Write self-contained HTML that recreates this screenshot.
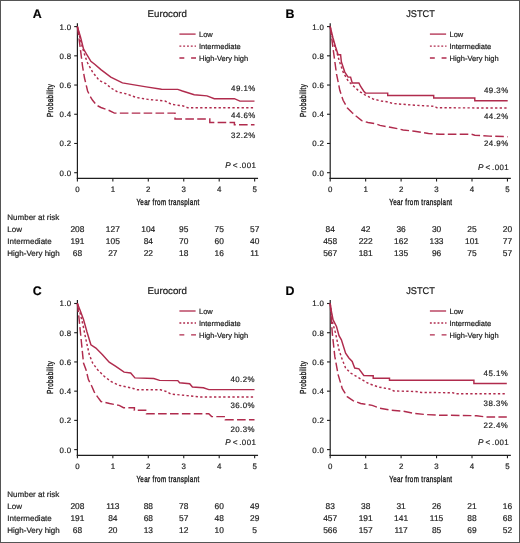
<!DOCTYPE html>
<html><head><meta charset="utf-8"><style>
html,body{margin:0;padding:0;background:#fff;}
body{width:520px;height:543px;overflow:hidden;}
svg{display:block;will-change:transform;}
text{font-family:"Liberation Sans",sans-serif;fill:#222;text-rendering:geometricPrecision;stroke:#222;stroke-width:0.2px;}
.tk{font-size:7.9px;letter-spacing:0.35px;}
.at{font-size:8.7px;letter-spacing:0.49px;stroke-width:0.4px;}
.lt{font-size:12.4px;font-weight:bold;fill:#000;}
.ti{font-size:9.7px;stroke-width:0.22px;}
.lg{font-size:7.5px;}
.pc{font-size:7.9px;letter-spacing:0.45px;}
.pv{font-size:8.2px;}
.nr{font-size:8px;}
.nn{font-size:8.4px;}
</style></head><body>
<svg width="520" height="543" viewBox="0 0 520 543">
<rect x="0" y="0" width="520" height="543" fill="#fff"/>
<path d="M77.40,23.20 V179.00" stroke="#1e1e1e" stroke-width="1.2" fill="none"/>
<path d="M76.80,178.40 H258.05" stroke="#1e1e1e" stroke-width="1.2" fill="none"/>
<path d="M74.20,172.70 H77.4" stroke="#1e1e1e" stroke-width="1.1"/>
<text x="71.45" y="175.60" class="tk" text-anchor="end">0.0</text>
<path d="M74.20,143.48 H77.4" stroke="#1e1e1e" stroke-width="1.1"/>
<text x="71.45" y="146.38" class="tk" text-anchor="end">0.2</text>
<path d="M74.20,114.26 H77.4" stroke="#1e1e1e" stroke-width="1.1"/>
<text x="71.45" y="117.16" class="tk" text-anchor="end">0.4</text>
<path d="M74.20,85.04 H77.4" stroke="#1e1e1e" stroke-width="1.1"/>
<text x="71.45" y="87.94" class="tk" text-anchor="end">0.6</text>
<path d="M74.20,55.82 H77.4" stroke="#1e1e1e" stroke-width="1.1"/>
<text x="71.45" y="58.72" class="tk" text-anchor="end">0.8</text>
<path d="M74.20,26.60 H77.4" stroke="#1e1e1e" stroke-width="1.1"/>
<text x="71.45" y="29.50" class="tk" text-anchor="end">1.0</text>
<path d="M77.40,178.4 V181.40" stroke="#1e1e1e" stroke-width="1.1"/>
<text x="77.57" y="191.90" class="tk" text-anchor="middle">0</text>
<path d="M112.85,178.4 V181.40" stroke="#1e1e1e" stroke-width="1.1"/>
<text x="113.02" y="191.90" class="tk" text-anchor="middle">1</text>
<path d="M148.30,178.4 V181.40" stroke="#1e1e1e" stroke-width="1.1"/>
<text x="148.47" y="191.90" class="tk" text-anchor="middle">2</text>
<path d="M183.75,178.4 V181.40" stroke="#1e1e1e" stroke-width="1.1"/>
<text x="183.92" y="191.90" class="tk" text-anchor="middle">3</text>
<path d="M219.20,178.4 V181.40" stroke="#1e1e1e" stroke-width="1.1"/>
<text x="219.37" y="191.90" class="tk" text-anchor="middle">4</text>
<path d="M254.65,178.4 V181.40" stroke="#1e1e1e" stroke-width="1.1"/>
<text x="254.82" y="191.90" class="tk" text-anchor="middle">5</text>
<text transform="translate(136.40,205.30) scale(0.72,1)" class="at">Year from transplant</text>
<text transform="translate(53.00,116.90) rotate(-90) scale(0.72,1)" class="at">Probability</text>
<text x="32.80" y="17.70" class="lt">A</text>
<text x="147.60" y="17.10" class="ti">Eurocord</text>
<path d="M179.40,34.10 h16.2" stroke="#b02b4d" stroke-width="1.3"/>
<path d="M179.40,46.10 h16.6" stroke="#b02b4d" stroke-width="1.3" stroke-dasharray="1.9 1.9"/>
<path d="M179.40,58.00 h16.6" stroke="#b02b4d" stroke-width="1.3" stroke-dasharray="4.9 6.8"/>
<text x="199.00" y="36.70" class="lg">Low</text>
<text x="199.00" y="48.70" class="lg">Intermediate</text>
<text x="199.00" y="60.60" class="lg">High-Very high</text>
<text x="255.70" y="90.70" class="pc" text-anchor="end">49.1%</text>
<text x="255.70" y="117.70" class="pc" text-anchor="end">44.6%</text>
<text x="255.70" y="137.90" class="pc" text-anchor="end">32.2%</text>
<text x="225.20" y="168.40" class="pv" font-style="italic">P</text>
<text x="232.70" y="168.40" class="pv">&lt;</text>
<text x="256.40" y="168.40" class="pc" text-anchor="end">.001</text>
<polyline points="77.4,26.6 80.0,46.0 82.5,66.0 84.5,78.0 87.6,91.0 90.0,96.0 92.6,100.3 96.7,105.3 100.9,107.5 109.2,110.5 114.4,113.1 175.0,113.1 175.0,119.0 209.8,119.0 209.8,122.4 234.4,122.4 234.4,124.8 254.5,124.8" fill="none" stroke="#b02b4d" stroke-width="1.45" stroke-dasharray="8.6 3.3" stroke-linejoin="miter"/>
<polyline points="77.4,26.6 80.0,38.0 82.6,48.0 85.0,56.0 87.6,63.0 92.6,72.1 99.2,80.4 105.9,83.7 110.8,87.8 117.5,92.0 125.8,93.7 136.5,97.5 148.1,99.4 159.6,100.5 165.0,101.0 171.4,104.3 183.3,106.0 187.8,107.8 254.5,107.8" fill="none" stroke="#b02b4d" stroke-width="1.45" stroke-dasharray="2.3 2.3"/>
<polyline points="77.4,26.6 80.5,37.0 83.5,48.9 87.0,55.0 90.9,61.3 95.0,64.5 100.9,69.6 110.8,77.1 122.4,82.9 132.7,84.6 146.2,86.9 161.5,89.2 177.8,89.4 182.4,91.0 194.2,94.7 207.0,95.9 214.3,98.7 234.4,98.7 239.9,101.1 254.5,101.1" fill="none" stroke="#b02b4d" stroke-width="1.45"/>
<text x="7.3" y="219.70" class="nr">Number at risk</text>
<text x="7.3" y="231.80" class="nr">Low</text>
<text x="7.3" y="243.80" class="nr">Intermediate</text>
<text x="7.3" y="255.80" class="nr">High-Very high</text>
<text x="77.40" y="231.80" class="nn" text-anchor="middle">208</text>
<text x="112.85" y="231.80" class="nn" text-anchor="middle">127</text>
<text x="148.30" y="231.80" class="nn" text-anchor="middle">104</text>
<text x="183.75" y="231.80" class="nn" text-anchor="middle">95</text>
<text x="219.20" y="231.80" class="nn" text-anchor="middle">75</text>
<text x="254.65" y="231.80" class="nn" text-anchor="middle">57</text>
<text x="77.40" y="243.80" class="nn" text-anchor="middle">191</text>
<text x="112.85" y="243.80" class="nn" text-anchor="middle">105</text>
<text x="148.30" y="243.80" class="nn" text-anchor="middle">84</text>
<text x="183.75" y="243.80" class="nn" text-anchor="middle">70</text>
<text x="219.20" y="243.80" class="nn" text-anchor="middle">60</text>
<text x="254.65" y="243.80" class="nn" text-anchor="middle">40</text>
<text x="77.40" y="255.80" class="nn" text-anchor="middle">68</text>
<text x="112.85" y="255.80" class="nn" text-anchor="middle">27</text>
<text x="148.30" y="255.80" class="nn" text-anchor="middle">22</text>
<text x="183.75" y="255.80" class="nn" text-anchor="middle">18</text>
<text x="219.20" y="255.80" class="nn" text-anchor="middle">16</text>
<text x="254.65" y="255.80" class="nn" text-anchor="middle">11</text>
<path d="M330.20,23.20 V179.00" stroke="#1e1e1e" stroke-width="1.2" fill="none"/>
<path d="M329.60,178.40 H510.85" stroke="#1e1e1e" stroke-width="1.2" fill="none"/>
<path d="M327.00,172.70 H330.2" stroke="#1e1e1e" stroke-width="1.1"/>
<text x="324.25" y="175.60" class="tk" text-anchor="end">0.0</text>
<path d="M327.00,143.48 H330.2" stroke="#1e1e1e" stroke-width="1.1"/>
<text x="324.25" y="146.38" class="tk" text-anchor="end">0.2</text>
<path d="M327.00,114.26 H330.2" stroke="#1e1e1e" stroke-width="1.1"/>
<text x="324.25" y="117.16" class="tk" text-anchor="end">0.4</text>
<path d="M327.00,85.04 H330.2" stroke="#1e1e1e" stroke-width="1.1"/>
<text x="324.25" y="87.94" class="tk" text-anchor="end">0.6</text>
<path d="M327.00,55.82 H330.2" stroke="#1e1e1e" stroke-width="1.1"/>
<text x="324.25" y="58.72" class="tk" text-anchor="end">0.8</text>
<path d="M327.00,26.60 H330.2" stroke="#1e1e1e" stroke-width="1.1"/>
<text x="324.25" y="29.50" class="tk" text-anchor="end">1.0</text>
<path d="M330.20,178.4 V181.40" stroke="#1e1e1e" stroke-width="1.1"/>
<text x="330.37" y="191.90" class="tk" text-anchor="middle">0</text>
<path d="M365.65,178.4 V181.40" stroke="#1e1e1e" stroke-width="1.1"/>
<text x="365.82" y="191.90" class="tk" text-anchor="middle">1</text>
<path d="M401.10,178.4 V181.40" stroke="#1e1e1e" stroke-width="1.1"/>
<text x="401.27" y="191.90" class="tk" text-anchor="middle">2</text>
<path d="M436.55,178.4 V181.40" stroke="#1e1e1e" stroke-width="1.1"/>
<text x="436.72" y="191.90" class="tk" text-anchor="middle">3</text>
<path d="M472.00,178.4 V181.40" stroke="#1e1e1e" stroke-width="1.1"/>
<text x="472.17" y="191.90" class="tk" text-anchor="middle">4</text>
<path d="M507.45,178.4 V181.40" stroke="#1e1e1e" stroke-width="1.1"/>
<text x="507.62" y="191.90" class="tk" text-anchor="middle">5</text>
<text transform="translate(389.20,205.30) scale(0.72,1)" class="at">Year from transplant</text>
<text transform="translate(305.80,116.90) rotate(-90) scale(0.72,1)" class="at">Probability</text>
<text x="285.60" y="17.70" class="lt">B</text>
<text x="406.20" y="17.10" class="ti" textLength="28.6" lengthAdjust="spacingAndGlyphs">JSTCT</text>
<path d="M429.90,34.10 h16.2" stroke="#b02b4d" stroke-width="1.3"/>
<path d="M429.90,46.10 h16.6" stroke="#b02b4d" stroke-width="1.3" stroke-dasharray="1.9 1.9"/>
<path d="M429.90,58.00 h16.6" stroke="#b02b4d" stroke-width="1.3" stroke-dasharray="4.9 6.8"/>
<text x="449.50" y="36.70" class="lg">Low</text>
<text x="449.50" y="48.70" class="lg">Intermediate</text>
<text x="449.50" y="60.60" class="lg">High-Very high</text>
<text x="508.60" y="93.30" class="pc" text-anchor="end">49.3%</text>
<text x="508.60" y="119.10" class="pc" text-anchor="end">44.2%</text>
<text x="508.60" y="146.30" class="pc" text-anchor="end">24.9%</text>
<text x="478.00" y="170.00" class="pv" font-style="italic">P</text>
<text x="485.50" y="170.00" class="pv">&lt;</text>
<text x="509.20" y="170.00" class="pc" text-anchor="end">.001</text>
<polyline points="330.2,26.6 333.1,48.9 336.5,73.8 339.8,90.3 343.1,100.3 347.2,107.7 352.2,112.7 356.0,116.0 361.7,120.6 368.0,122.5 376.0,123.8 380.0,125.4 391.5,127.5 397.3,128.6 403.1,130.0 414.6,131.2 428.5,133.5 440.0,134.2 471.2,134.2 474.8,135.2 489.4,136.1 507.7,136.7" fill="none" stroke="#b02b4d" stroke-width="1.45" stroke-dasharray="8.6 3.3" stroke-linejoin="miter"/>
<polyline points="330.2,26.6 332.2,37.0 334.3,45.0 337.3,54.0 339.6,62.0 343.5,73.0 348.3,81.2 353.7,86.2 359.0,91.2 365.0,94.8 373.1,99.0 381.2,101.0 386.9,101.8 392.7,103.5 414.6,105.2 434.2,106.3 437.0,107.8 507.7,108.0" fill="none" stroke="#b02b4d" stroke-width="1.45" stroke-dasharray="2.3 2.3"/>
<polyline points="330.2,26.6 333.0,38.0 335.6,47.0 338.1,54.7 340.6,54.7 341.4,62.0 344.8,72.1 348.1,77.1 350.6,77.1 352.2,82.9 358.9,82.9 360.5,86.2 363.8,91.2 365.5,93.1 387.7,93.1 387.7,95.4 433.7,95.4 433.7,98.0 474.8,98.0 474.8,100.7 507.7,100.7" fill="none" stroke="#b02b4d" stroke-width="1.45"/>
<text x="330.20" y="231.80" class="nn" text-anchor="middle">84</text>
<text x="365.65" y="231.80" class="nn" text-anchor="middle">42</text>
<text x="401.10" y="231.80" class="nn" text-anchor="middle">36</text>
<text x="436.55" y="231.80" class="nn" text-anchor="middle">30</text>
<text x="472.00" y="231.80" class="nn" text-anchor="middle">25</text>
<text x="507.45" y="231.80" class="nn" text-anchor="middle">20</text>
<text x="330.20" y="243.80" class="nn" text-anchor="middle">458</text>
<text x="365.65" y="243.80" class="nn" text-anchor="middle">222</text>
<text x="401.10" y="243.80" class="nn" text-anchor="middle">162</text>
<text x="436.55" y="243.80" class="nn" text-anchor="middle">133</text>
<text x="472.00" y="243.80" class="nn" text-anchor="middle">101</text>
<text x="507.45" y="243.80" class="nn" text-anchor="middle">77</text>
<text x="330.20" y="255.80" class="nn" text-anchor="middle">567</text>
<text x="365.65" y="255.80" class="nn" text-anchor="middle">181</text>
<text x="401.10" y="255.80" class="nn" text-anchor="middle">135</text>
<text x="436.55" y="255.80" class="nn" text-anchor="middle">96</text>
<text x="472.00" y="255.80" class="nn" text-anchor="middle">75</text>
<text x="507.45" y="255.80" class="nn" text-anchor="middle">57</text>
<path d="M77.40,300.10 V455.90" stroke="#1e1e1e" stroke-width="1.2" fill="none"/>
<path d="M76.80,455.30 H258.05" stroke="#1e1e1e" stroke-width="1.2" fill="none"/>
<path d="M74.20,449.60 H77.4" stroke="#1e1e1e" stroke-width="1.1"/>
<text x="71.45" y="452.50" class="tk" text-anchor="end">0.0</text>
<path d="M74.20,420.38 H77.4" stroke="#1e1e1e" stroke-width="1.1"/>
<text x="71.45" y="423.28" class="tk" text-anchor="end">0.2</text>
<path d="M74.20,391.16 H77.4" stroke="#1e1e1e" stroke-width="1.1"/>
<text x="71.45" y="394.06" class="tk" text-anchor="end">0.4</text>
<path d="M74.20,361.94 H77.4" stroke="#1e1e1e" stroke-width="1.1"/>
<text x="71.45" y="364.84" class="tk" text-anchor="end">0.6</text>
<path d="M74.20,332.72 H77.4" stroke="#1e1e1e" stroke-width="1.1"/>
<text x="71.45" y="335.62" class="tk" text-anchor="end">0.8</text>
<path d="M74.20,303.50 H77.4" stroke="#1e1e1e" stroke-width="1.1"/>
<text x="71.45" y="306.40" class="tk" text-anchor="end">1.0</text>
<path d="M77.40,455.29999999999995 V458.30" stroke="#1e1e1e" stroke-width="1.1"/>
<text x="77.57" y="468.80" class="tk" text-anchor="middle">0</text>
<path d="M112.85,455.29999999999995 V458.30" stroke="#1e1e1e" stroke-width="1.1"/>
<text x="113.02" y="468.80" class="tk" text-anchor="middle">1</text>
<path d="M148.30,455.29999999999995 V458.30" stroke="#1e1e1e" stroke-width="1.1"/>
<text x="148.47" y="468.80" class="tk" text-anchor="middle">2</text>
<path d="M183.75,455.29999999999995 V458.30" stroke="#1e1e1e" stroke-width="1.1"/>
<text x="183.92" y="468.80" class="tk" text-anchor="middle">3</text>
<path d="M219.20,455.29999999999995 V458.30" stroke="#1e1e1e" stroke-width="1.1"/>
<text x="219.37" y="468.80" class="tk" text-anchor="middle">4</text>
<path d="M254.65,455.29999999999995 V458.30" stroke="#1e1e1e" stroke-width="1.1"/>
<text x="254.82" y="468.80" class="tk" text-anchor="middle">5</text>
<text transform="translate(136.40,482.20) scale(0.72,1)" class="at">Year from transplant</text>
<text transform="translate(53.00,393.80) rotate(-90) scale(0.72,1)" class="at">Probability</text>
<text x="32.80" y="294.60" class="lt">C</text>
<text x="147.60" y="294.45" class="ti">Eurocord</text>
<path d="M179.40,311.00 h16.2" stroke="#b02b4d" stroke-width="1.3"/>
<path d="M179.40,323.00 h16.6" stroke="#b02b4d" stroke-width="1.3" stroke-dasharray="1.9 1.9"/>
<path d="M179.40,334.90 h16.6" stroke="#b02b4d" stroke-width="1.3" stroke-dasharray="4.9 6.8"/>
<text x="199.00" y="313.60" class="lg">Low</text>
<text x="199.00" y="325.60" class="lg">Intermediate</text>
<text x="199.00" y="337.50" class="lg">High-Very high</text>
<text x="255.00" y="381.80" class="pc" text-anchor="end">40.2%</text>
<text x="255.00" y="408.30" class="pc" text-anchor="end">36.0%</text>
<text x="255.00" y="431.50" class="pc" text-anchor="end">20.3%</text>
<text x="225.20" y="445.30" class="pv" font-style="italic">P</text>
<text x="232.70" y="445.30" class="pv">&lt;</text>
<text x="256.40" y="445.30" class="pc" text-anchor="end">.001</text>
<polyline points="77.4,303.5 79.0,318.0 81.0,338.0 83.5,363.0 86.0,369.7 88.4,379.6 91.8,386.2 94.2,391.9 98.1,397.7 101.0,401.5 109.6,403.5 119.2,405.4 123.5,407.7 134.4,407.7 134.4,410.2 146.5,410.2 146.5,413.7 208.8,413.7 211.6,416.6 225.3,416.6 225.3,419.7 254.5,419.7" fill="none" stroke="#b02b4d" stroke-width="1.45" stroke-dasharray="8.6 3.3" stroke-linejoin="miter"/>
<polyline points="77.4,303.5 80.3,314.0 82.6,323.2 86.0,339.8 89.3,354.7 92.6,363.0 97.6,369.7 104.2,376.3 110.8,381.3 119.1,385.4 127.4,387.1 134.0,388.7 137.3,389.8 160.4,389.8 166.2,391.5 170.8,394.0 186.9,395.6 199.7,396.9 254.5,396.9" fill="none" stroke="#b02b4d" stroke-width="1.45" stroke-dasharray="2.3 2.3"/>
<polyline points="77.4,303.5 80.0,310.0 83.5,319.5 87.0,332.0 90.9,344.8 95.9,348.1 102.5,354.7 109.2,362.2 115.8,366.3 124.1,372.1 130.7,373.0 134.9,377.9 153.8,378.5 159.6,380.4 177.8,380.6 179.6,382.8 189.7,383.7 192.4,387.0 203.4,387.8 208.8,389.6 254.5,389.6" fill="none" stroke="#b02b4d" stroke-width="1.45"/>
<text x="7.3" y="496.60" class="nr">Number at risk</text>
<text x="7.3" y="508.70" class="nr">Low</text>
<text x="7.3" y="520.70" class="nr">Intermediate</text>
<text x="7.3" y="532.70" class="nr">High-Very high</text>
<text x="77.40" y="508.70" class="nn" text-anchor="middle">208</text>
<text x="112.85" y="508.70" class="nn" text-anchor="middle">113</text>
<text x="148.30" y="508.70" class="nn" text-anchor="middle">88</text>
<text x="183.75" y="508.70" class="nn" text-anchor="middle">78</text>
<text x="219.20" y="508.70" class="nn" text-anchor="middle">60</text>
<text x="254.65" y="508.70" class="nn" text-anchor="middle">49</text>
<text x="77.40" y="520.70" class="nn" text-anchor="middle">191</text>
<text x="112.85" y="520.70" class="nn" text-anchor="middle">84</text>
<text x="148.30" y="520.70" class="nn" text-anchor="middle">68</text>
<text x="183.75" y="520.70" class="nn" text-anchor="middle">57</text>
<text x="219.20" y="520.70" class="nn" text-anchor="middle">48</text>
<text x="254.65" y="520.70" class="nn" text-anchor="middle">29</text>
<text x="77.40" y="532.70" class="nn" text-anchor="middle">68</text>
<text x="112.85" y="532.70" class="nn" text-anchor="middle">20</text>
<text x="148.30" y="532.70" class="nn" text-anchor="middle">13</text>
<text x="183.75" y="532.70" class="nn" text-anchor="middle">12</text>
<text x="219.20" y="532.70" class="nn" text-anchor="middle">10</text>
<text x="254.65" y="532.70" class="nn" text-anchor="middle">5</text>
<path d="M330.20,300.10 V455.90" stroke="#1e1e1e" stroke-width="1.2" fill="none"/>
<path d="M329.60,455.30 H510.85" stroke="#1e1e1e" stroke-width="1.2" fill="none"/>
<path d="M327.00,449.60 H330.2" stroke="#1e1e1e" stroke-width="1.1"/>
<text x="324.25" y="452.50" class="tk" text-anchor="end">0.0</text>
<path d="M327.00,420.38 H330.2" stroke="#1e1e1e" stroke-width="1.1"/>
<text x="324.25" y="423.28" class="tk" text-anchor="end">0.2</text>
<path d="M327.00,391.16 H330.2" stroke="#1e1e1e" stroke-width="1.1"/>
<text x="324.25" y="394.06" class="tk" text-anchor="end">0.4</text>
<path d="M327.00,361.94 H330.2" stroke="#1e1e1e" stroke-width="1.1"/>
<text x="324.25" y="364.84" class="tk" text-anchor="end">0.6</text>
<path d="M327.00,332.72 H330.2" stroke="#1e1e1e" stroke-width="1.1"/>
<text x="324.25" y="335.62" class="tk" text-anchor="end">0.8</text>
<path d="M327.00,303.50 H330.2" stroke="#1e1e1e" stroke-width="1.1"/>
<text x="324.25" y="306.40" class="tk" text-anchor="end">1.0</text>
<path d="M330.20,455.29999999999995 V458.30" stroke="#1e1e1e" stroke-width="1.1"/>
<text x="330.37" y="468.80" class="tk" text-anchor="middle">0</text>
<path d="M365.65,455.29999999999995 V458.30" stroke="#1e1e1e" stroke-width="1.1"/>
<text x="365.82" y="468.80" class="tk" text-anchor="middle">1</text>
<path d="M401.10,455.29999999999995 V458.30" stroke="#1e1e1e" stroke-width="1.1"/>
<text x="401.27" y="468.80" class="tk" text-anchor="middle">2</text>
<path d="M436.55,455.29999999999995 V458.30" stroke="#1e1e1e" stroke-width="1.1"/>
<text x="436.72" y="468.80" class="tk" text-anchor="middle">3</text>
<path d="M472.00,455.29999999999995 V458.30" stroke="#1e1e1e" stroke-width="1.1"/>
<text x="472.17" y="468.80" class="tk" text-anchor="middle">4</text>
<path d="M507.45,455.29999999999995 V458.30" stroke="#1e1e1e" stroke-width="1.1"/>
<text x="507.62" y="468.80" class="tk" text-anchor="middle">5</text>
<text transform="translate(389.20,482.20) scale(0.72,1)" class="at">Year from transplant</text>
<text transform="translate(305.80,393.80) rotate(-90) scale(0.72,1)" class="at">Probability</text>
<text x="285.60" y="294.60" class="lt">D</text>
<text x="406.20" y="294.45" class="ti" textLength="28.6" lengthAdjust="spacingAndGlyphs">JSTCT</text>
<path d="M429.90,311.00 h16.2" stroke="#b02b4d" stroke-width="1.3"/>
<path d="M429.90,323.00 h16.6" stroke="#b02b4d" stroke-width="1.3" stroke-dasharray="1.9 1.9"/>
<path d="M429.90,334.90 h16.6" stroke="#b02b4d" stroke-width="1.3" stroke-dasharray="4.9 6.8"/>
<text x="449.50" y="313.60" class="lg">Low</text>
<text x="449.50" y="325.60" class="lg">Intermediate</text>
<text x="449.50" y="337.50" class="lg">High-Very high</text>
<text x="508.20" y="375.80" class="pc" text-anchor="end">45.1%</text>
<text x="508.20" y="405.60" class="pc" text-anchor="end">38.3%</text>
<text x="508.20" y="427.50" class="pc" text-anchor="end">22.4%</text>
<text x="478.00" y="445.30" class="pv" font-style="italic">P</text>
<text x="485.50" y="445.30" class="pv">&lt;</text>
<text x="509.20" y="445.30" class="pc" text-anchor="end">.001</text>
<polyline points="330.2,303.5 332.3,333.2 334.8,356.4 338.1,374.6 342.3,388.7 347.2,396.7 353.0,400.6 360.7,403.5 372.2,405.4 380.0,408.3 391.5,410.2 403.1,411.2 414.6,413.5 426.2,414.6 440.0,415.2 476.6,415.7 485.8,417.0 506.8,417.0" fill="none" stroke="#b02b4d" stroke-width="1.45" stroke-dasharray="8.6 3.3" stroke-linejoin="miter"/>
<polyline points="330.2,303.5 332.3,321.6 335.6,333.2 339.0,349.8 342.3,359.7 345.6,368.0 350.6,373.0 358.9,377.9 368.8,383.7 378.8,387.1 389.5,389.0 393.8,391.0 404.9,391.2 415.8,391.5 421.5,392.5 452.9,392.7 455.0,393.8 506.8,393.8" fill="none" stroke="#b02b4d" stroke-width="1.45" stroke-dasharray="2.3 2.3"/>
<polyline points="330.2,303.5 331.5,312.0 333.1,319.9 336.5,326.5 339.0,335.7 341.4,339.8 345.6,353.1 348.9,358.0 352.2,361.4 354.7,368.0 358.9,368.8 363.8,375.5 373.2,375.8 373.2,378.3 389.5,378.3 389.5,380.3 473.9,380.3 473.9,383.4 506.8,383.4" fill="none" stroke="#b02b4d" stroke-width="1.45"/>
<text x="330.20" y="508.70" class="nn" text-anchor="middle">83</text>
<text x="365.65" y="508.70" class="nn" text-anchor="middle">38</text>
<text x="401.10" y="508.70" class="nn" text-anchor="middle">31</text>
<text x="436.55" y="508.70" class="nn" text-anchor="middle">26</text>
<text x="472.00" y="508.70" class="nn" text-anchor="middle">21</text>
<text x="507.45" y="508.70" class="nn" text-anchor="middle">16</text>
<text x="330.20" y="520.70" class="nn" text-anchor="middle">457</text>
<text x="365.65" y="520.70" class="nn" text-anchor="middle">191</text>
<text x="401.10" y="520.70" class="nn" text-anchor="middle">141</text>
<text x="436.55" y="520.70" class="nn" text-anchor="middle">115</text>
<text x="472.00" y="520.70" class="nn" text-anchor="middle">88</text>
<text x="507.45" y="520.70" class="nn" text-anchor="middle">68</text>
<text x="330.20" y="532.70" class="nn" text-anchor="middle">566</text>
<text x="365.65" y="532.70" class="nn" text-anchor="middle">157</text>
<text x="401.10" y="532.70" class="nn" text-anchor="middle">117</text>
<text x="436.55" y="532.70" class="nn" text-anchor="middle">85</text>
<text x="472.00" y="532.70" class="nn" text-anchor="middle">69</text>
<text x="507.45" y="532.70" class="nn" text-anchor="middle">52</text>
<rect x="0.5" y="0.5" width="519" height="542" fill="none" stroke="#555" stroke-width="1"/>
</svg>
</body></html>
